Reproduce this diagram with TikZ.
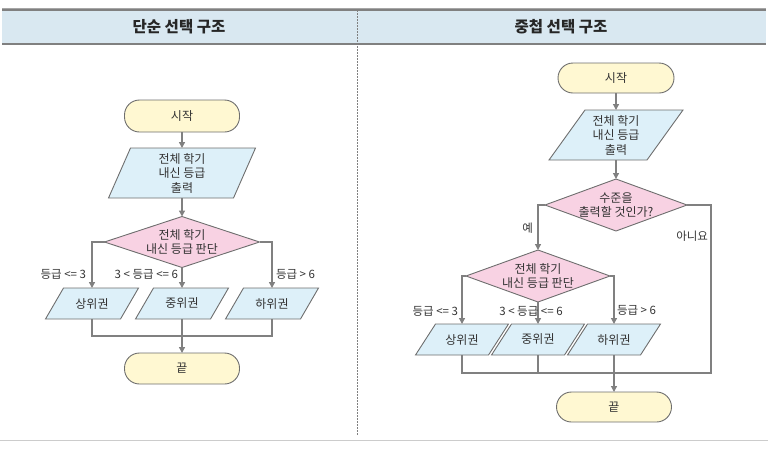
\documentclass[tikz,border=0pt]{standalone}
\usepackage{fontspec}
\setmainfont{Noto Sans CJK KR}
\usetikzlibrary{arrows.meta}
\definecolor{pyellow}{HTML}{FFF8D2}
\definecolor{pblue}{HTML}{DDF0F9}
\definecolor{ppink}{HTML}{F8D2E3}
\definecolor{pborder}{HTML}{6E6E6E}
\definecolor{pline}{HTML}{808080}
\definecolor{phdr}{HTML}{D9E8F1}
\definecolor{ptext}{HTML}{333333}
\tikzset{
  shp/.style={draw=pborder, line width=0.9pt, line join=miter},
  txt/.style={inner sep=0pt, outer sep=0pt, align=center, text=ptext,
              font=\fontsize{12}{14.5}\selectfont},
  term/.style={txt, draw=pborder, line width=0.9pt, fill=pyellow, rounded corners=15pt},
  lbl/.style={inner sep=0pt, outer sep=0pt, text=ptext, font=\fontsize{11.5}{13}\selectfont},
  conn/.style={draw=pline, line width=1.3pt},
  arr/.style={conn, -{Triangle[length=6pt,width=6pt]}},
  hdrtxt/.style={inner sep=0pt, text=black!85, font=\fontsize{15.5}{17}\selectfont\bfseries},
}
% name, x, y, W, H, slant, text
\newcommand\mkpara[7]{%
  \draw[shp,fill=pblue] (#2-#4/2+#6,#3-#5/2) -- (#2+#4/2,#3-#5/2) -- (#2+#4/2-#6,#3+#5/2) -- (#2-#4/2,#3+#5/2) -- cycle;
  \node[txt,minimum width=#4pt,minimum height=#5pt] (#1) at (#2,#3) {#7};}
% name, x, y, W, H, text
\newcommand\mkdiam[6]{%
  \draw[shp,fill=ppink] (#2,#3-#5/2) -- (#2+#4/2,#3) -- (#2,#3+#5/2) -- (#2-#4/2,#3) -- cycle;
  \node[txt,minimum width=#4pt,minimum height=#5pt] (#1) at (#2,#3) {#6};}
\begin{document}
\begin{tikzpicture}[x=1pt,y=-1pt]
\useasboundingbox (0,0) rectangle (768,448);
% header
\fill[phdr] (2,10) rectangle (766,44);
\draw[pline!70, line width=0.4pt] (2,8.6) -- (766,8.6);
\draw[pline, line width=1.2pt] (2,10) -- (766,10);
\draw[pline, line width=1.2pt] (2,44) -- (766,44);
\draw[black!20, line width=0.8pt] (0,440) -- (768,440);
\draw[pline, line width=0.8pt, dash pattern=on 1.5pt off 1.5pt] (357,10) -- (357,436);
\node[hdrtxt] (h1) at (179,27) {단순 선택 구조};
\node[hdrtxt] (h2) at (561,27) {중첩 선택 구조};

% ---------- left: simple selection ----------
\node[term, minimum width=115pt, minimum height=32pt] (s1) at (182,116) {시작};
\mkpara{in1}{182}{173}{147}{50}{22}{전체 학기\\내신 등급\\출력}
\mkdiam{d1}{182}{242}{155}{51}{전체 학기\\내신 등급 판단}
\mkpara{a1}{92}{303.5}{93}{31}{18}{상위권}
\mkpara{b1}{182}{303.5}{93}{31}{18}{중위권}
\mkpara{c1}{272}{303.5}{93}{31}{18}{하위권}
\node[term, minimum width=115pt, minimum height=31pt] (e1) at (182,368.5) {끝};
\coordinate (j1) at (182,336);

\draw[arr] (s1) -- (in1);
\draw[arr] (in1) -- (d1);
\draw[arr] (d1.west) -| (a1);
\draw[arr] (d1) -- (b1);
\draw[arr] (d1.east) -| (c1);
\draw[conn] (a1) |- (j1);
\draw[conn] (c1) |- (j1);
\draw[arr] (b1) -- (e1);

\node[lbl, anchor=east] (l1) at (86,274.5) {등급 <= 3};
\node[lbl, anchor=east] (l2) at (178,274.5) {3 < 등급 <= 6};
\node[lbl, anchor=west] (l3) at (276,274.5) {등급 > 6};

% ---------- right: nested selection ----------
\node[term, minimum width=116pt, minimum height=30pt] (s2) at (616,78) {시작};
\mkpara{in2}{616}{135}{134}{50}{36}{전체 학기\\내신 등급\\출력}
\mkdiam{d2}{616}{205}{142}{52}{수준을\\출력할 것인가?}
\mkdiam{d3}{538}{276}{144}{52}{전체 학기\\내신 등급 판단}
\mkpara{a2}{462}{339.5}{93}{31}{20}{상위권}
\mkpara{b2}{538}{339.5}{93}{31}{20}{중위권}
\mkpara{c2}{614}{339.5}{93}{31}{20}{하위권}
\node[term, minimum width=115pt, minimum height=30pt] (e2) at (614,407) {끝};
\coordinate (r1) at (711,373);

\draw[arr] (s2) -- (in2);
\draw[arr] (in2) -- (d2);
\draw[arr] (d2.west) -| (d3);
\draw[conn] (d2.east) -| (r1) -| (a2);
\draw[arr] (d3.west) -| (a2);
\draw[arr] (d3) -- (b2);
\draw[arr] (d3.east) -| (c2);
\draw[conn] (b2) -- (b2 |- r1);
\draw[arr] (c2) -- (e2);

\node[lbl, anchor=east] (y1) at (533,228) {예};
\node[lbl, anchor=east] (n1) at (708,236) {아니요};
\node[lbl, anchor=east] (l4) at (458,311.5) {등급 <= 3};
\node[lbl] (l5) at (531,311.5) {3 < 등급 <= 6};
\node[lbl, anchor=west] (l6) at (617,310) {등급 > 6};
\end{tikzpicture}
\end{document}
